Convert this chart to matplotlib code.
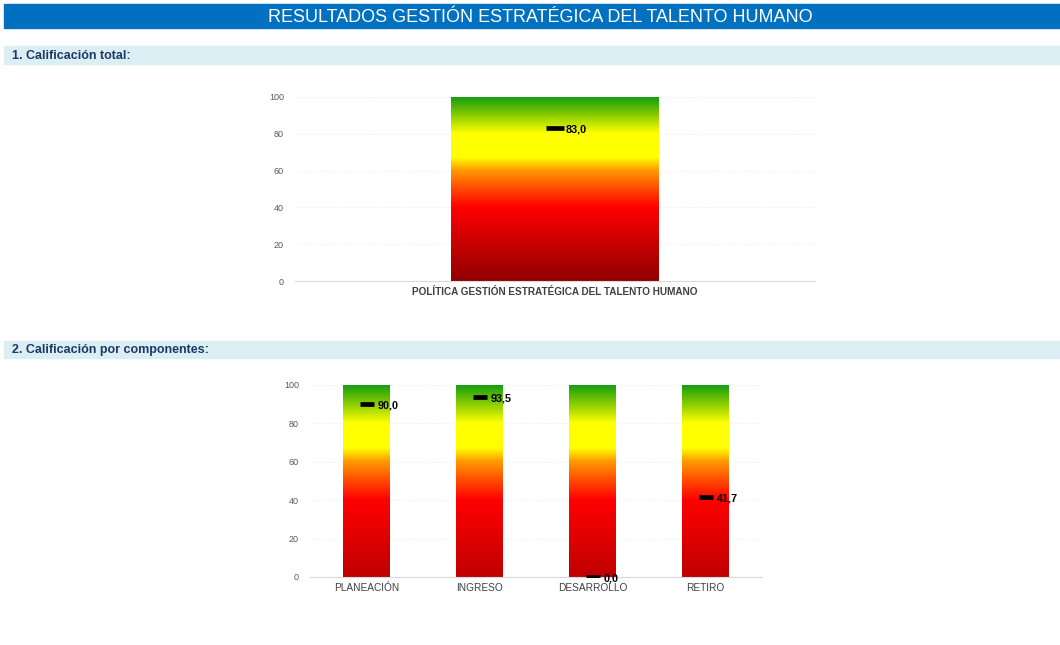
import numpy as np
import matplotlib
matplotlib.use("Agg")
import matplotlib.pyplot as plt
from matplotlib.colors import LinearSegmentedColormap
from matplotlib.patches import Rectangle

plt.rcParams['font.family'] = ['Liberation Sans', 'DejaVu Sans']

# datos
titulo = 'RESULTADOS GESTIÓN ESTRATÉGICA DEL TALENTO HUMANO'
seccion1 = '1. Calificación total:'
seccion2 = '2. Calificación por componentes:'

cat_total = ['POLÍTICA GESTIÓN ESTRATÉGICA DEL TALENTO HUMANO']
val_total = [83.0]

cat_comp = ['PLANEACIÓN', 'INGRESO', 'DESARROLLO', 'RETIRO']
val_comp = [90.0, 93.5, 0.0, 41.7]

escala_max = 100
yticks = [0, 20, 40, 60, 80, 100]


def cmap_semaforo(base):
    stops = [(0.0, base), (0.40, '#ff0000'), (0.50, '#ff4a00'), (0.60, '#ff9a00'),
             (0.67, '#ffff00'), (0.80, '#ffff00'), (0.90, '#88cc00'), (1.0, '#109c10')]
    return LinearSegmentedColormap.from_list('semaforo', stops)


def dibujar(ax, cats, vals, ancho, base, marker_w, xlabel_size, xlabel_bold):
    x = np.arange(len(cats))
    bars = ax.bar(x, [escala_max] * len(cats), width=ancho, color='none', zorder=2)
    grad = np.linspace(0, 1, 256).reshape(-1, 1)
    cm = cmap_semaforo(base)
    for b in bars:
        im = ax.imshow(grad, cmap=cm, origin='lower', aspect='auto',
                       extent=[b.get_x(), b.get_x() + b.get_width(), 0, escala_max],
                       zorder=2)
        im.set_clip_path(b)
    ax.plot(x, vals, linestyle='none', marker='_', markersize=marker_w,
            markeredgewidth=3.4, color='black', zorder=4)
    for xi, v in zip(x, vals):
        ax.annotate(f'{v:.1f}'.replace('.', ','), (xi, v), xytext=(8, -1),
                    textcoords='offset points', ha='left', va='center',
                    fontsize=7.8, fontweight='bold', color='black', zorder=5)
    ax.set_xlim(-0.5, len(cats) - 0.5)
    ax.set_ylim(0, escala_max)
    ax.set_yticks(yticks)
    ax.set_xticks(x)
    ax.set_xticklabels(cats, fontsize=xlabel_size, color='#404040',
                       fontweight='bold' if xlabel_bold else 'normal')
    ax.tick_params(axis='y', labelsize=6.5, labelcolor='#595959', length=0, pad=8)
    ax.tick_params(axis='x', length=0, pad=4)
    ax.grid(axis='y', color='#e8e8e8', linewidth=0.6, linestyle=':', zorder=0)
    ax.set_axisbelow(True)
    for s in ['top', 'right', 'left']:
        ax.spines[s].set_visible(False)
    ax.spines['bottom'].set_color('#d9d9d9')
    ax.spines['bottom'].set_linewidth(0.8)
    ax.set_facecolor('none')


fig = plt.figure(figsize=(10.6, 6.45), dpi=100)

# encabezado y franjas de sección
fig.patches.append(Rectangle((4 / 1060, 1 - 28 / 645), 1, 24 / 645,
                             transform=fig.transFigure, color='#0070c0', zorder=0))
fig.text(540 / 1060, 1 - 17 / 645, titulo, color='white', fontsize=13,
         ha='center', va='center')
fig.patches.append(Rectangle((4 / 1060, 1 - 64 / 645), 1, 18 / 645,
                             transform=fig.transFigure, color='#daeef3', zorder=0))
fig.text(12 / 1060, 1 - 56 / 645, seccion1, color='#1f3864', fontsize=9,
         fontweight='bold', ha='left', va='center')
fig.patches.append(Rectangle((4 / 1060, 1 - 358 / 645), 1, 17 / 645,
                             transform=fig.transFigure, color='#daeef3', zorder=0))
fig.text(12 / 1060, 1 - 350 / 645, seccion2, color='#1f3864', fontsize=9,
         fontweight='bold', ha='left', va='center')

ax1 = fig.add_axes([295 / 1060, 1 - 281 / 645, 520 / 1060, 184 / 645])
dibujar(ax1, cat_total, val_total, 0.4, '#900000', 13, 7.2, True)

ax2 = fig.add_axes([310 / 1060, 1 - 577 / 645, 452 / 1060, 192 / 645])
dibujar(ax2, cat_comp, val_comp, 0.41, '#c00000', 10, 7.3, False)

fig.savefig('out.png', dpi=100)
